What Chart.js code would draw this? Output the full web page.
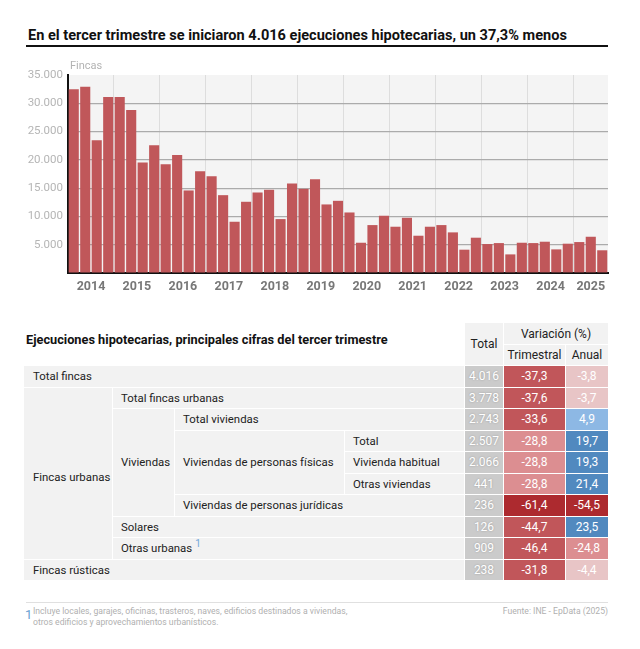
<!DOCTYPE html>
<html>
<head>
<meta charset="utf-8">
<script src="https://cdn.jsdelivr.net/npm/chart.js@4/dist/chart.umd.min.js"></script>
<style>
  html,body{margin:0;padding:0;background:#fff;}
  body{width:640px;height:649px;position:relative;overflow:hidden;font-family:Roboto,"Noto Sans",sans-serif;color:#222;}
  #title{position:absolute;left:28px;top:27px;font-size:14.55px;font-weight:700;color:#111;white-space:nowrap;}
  #rule{position:absolute;left:26px;top:45px;width:582px;height:2px;background:#111;}
  #unit{position:absolute;left:70px;top:59px;font-size:11px;color:#b3b3b3;}
  #wrap{position:absolute;left:0;top:0;width:640px;height:300px;}
  #sub{position:absolute;left:26px;top:332px;font-size:12.75px;font-weight:700;color:#111;white-space:nowrap;}
  .cell{position:absolute;box-sizing:border-box;display:flex;align-items:center;font-size:11.4px;white-space:nowrap;}
  .lab{background:#f2f2f2;padding-left:8px;color:#222;}
  .hd{background:#f2f2f2;justify-content:center;color:#222;font-size:12px;}
  .num{justify-content:center;color:#fff;font-size:12px;}
  .tot{background:#cbcbcb;text-shadow:0 0 2px rgba(0,0,0,0.25);}
  .sup{color:#6fa6da;font-size:10px;position:relative;top:-5px;margin-left:3px;}
  #frule{position:absolute;left:26px;top:602px;width:582px;height:1px;background:#e0e0e0;}
  #fn1{position:absolute;left:25px;top:607px;font-size:13px;color:#6a9fd2;}
  #fnt{position:absolute;left:33px;top:606px;font-size:8.65px;line-height:10.5px;color:#b0b0b0;}
  #src{position:absolute;right:32px;top:606px;font-size:8.6px;color:#b0b0b0;}
</style>
</head>
<body>
<div id="title">En el tercer trimestre se iniciaron 4.016 ejecuciones hipotecarias, un 37,3% menos</div>
<div id="rule"></div>
<div id="wrap"><canvas id="c"></canvas></div>
<div id="unit">Fincas</div>
<div id="sub">Ejecuciones hipotecarias, principales cifras del tercer trimestre</div>
<div id="table"></div>
<div id="frule"></div>
<div id="fn1">1</div>
<div id="fnt">Incluye locales, garajes, oficinas, trasteros, naves, edificios destinados a viviendas,<br>otros edificios y aprovechamientos urbanísticos.</div>
<div id="src">Fuente: INE - EpData (2025)</div>
<script>
// ---------- DATA ----------
const years = ['2014','2015','2016','2017','2018','2019','2020','2021','2022','2023','2024','2025'];
const quarters = ['T1','T2','T3','T4'];
const values = [
  32470, 32940, 23470, 31120,
  31120, 28820, 19530, 22590,
  19230, 20880, 14590, 18000,
  17120, 13760, 9060, 12590,
  14230, 14710, 9530, 15820,
  14880, 16590, 12120, 12760,
  10700, 5350, 8470, 10120,
  8180, 9760, 6590, 8180,
  8470, 7180, 4120, 6240,
  5120, 5290, 3290, 5350,
  5290, 5530, 4175, 5180,
  5470, 6407, 4016
];
const yTicks = [0, 5000, 10000, 15000, 20000, 25000, 30000, 35000];

const rowNames = ['Total fincas','Total fincas urbanas','Total viviendas','Total','Vivienda habitual','Otras viviendas','Viviendas de personas jurídicas','Solares','Otras urbanas','Fincas rústicas'];
const groupNames = ['Fincas urbanas','Viviendas','Viviendas de personas físicas'];
const totals = ['4.016','3.778','2.743','2.507','2.066','441','236','126','909','238'];
const trimestral = [-37.3,-37.6,-33.6,-28.8,-28.8,-28.8,-61.4,-44.7,-46.4,-31.8];
const anual = [-3.8,-3.7,4.9,19.7,19.3,21.4,-54.5,23.5,-24.8,-4.4];
const headers = ['Total','Variación (%)','Trimestral','Anual'];

// ---------- CHART ----------
const labels = [];
years.forEach(y => quarters.forEach(q => labels.push(y + q)));
labels.length = values.length;

const fmt = v => String(v).replace(/\B(?=(\d{3})+(?!\d))/g, '.');

const bgPlugin = {
  id: 'bg',
  beforeDraw(chart) {
    const {ctx, chartArea: a} = chart;
    ctx.save();
    ctx.fillStyle = '#f4f4f4';
    ctx.fillRect(a.left, a.top, a.right - a.left, a.bottom - a.top);
    ctx.restore();
  }
};

const yearCenters = years.map((y, i) => {
  const first = i * 4;
  const last = Math.min(first + 3, values.length - 1);
  return (first + last) / 2;
});

new Chart(document.getElementById('c'), {
  type: 'bar',
  data: {
    labels: labels,
    datasets: [{
      data: values,
      backgroundColor: '#c0575a',
      barPercentage: 0.88,
      categoryPercentage: 1.0,
      xAxisID: 'x',
      yAxisID: 'y'
    }]
  },
  options: {
    responsive: true,
    maintainAspectRatio: false,
    animation: false,
    layout: {padding: {left: 0, right: 32, top: 75, bottom: 0}},
    plugins: {legend: {display: false}, tooltip: {enabled: false}},
    scales: {
      x: {
        type: 'category',
        position: 'bottom',
        offset: true,
        grid: {
          offset: true,
          drawTicks: false,
          color: c => (c.index % 4 === 0 && c.index > 0 && c.index < values.length) ? '#dddddd' : 'rgba(0,0,0,0)',
          lineWidth: 1
        },
        border: {display: true, color: '#111', width: 2},
        ticks: {display: false},
        afterFit: s => { s.height = 0; }
      },
      xl: {
        type: 'linear',
        position: 'bottom',
        offset: false,
        bounds: 'data',
        min: -0.5,
        max: values.length - 0.5,
        grid: {display: false, drawTicks: false, offset: false},
        border: {display: false},
        afterBuildTicks: s => { s.ticks = yearCenters.map(v => ({value: v})); },
        ticks: {
          autoSkip: false,
          maxRotation: 0,
          padding: 6,
          color: '#777',
          font: {family: 'Roboto', size: 12.5, weight: 'bold'},
          callback: (v) => {
            const i = yearCenters.indexOf(v);
            return i >= 0 ? years[i] : '';
          }
        },
        afterFit: s => { s.height = 27; }
      },
      y: {
        min: 0,
        max: 35000,
        afterBuildTicks: s => { s.ticks = yTicks.map(v => ({value: v})); },
        grid: {
          drawTicks: false,
          color: c => (c.tick && c.tick.value > 0 && c.tick.value < 35000) ? '#ababab' : 'rgba(0,0,0,0)',
          lineWidth: 1.2
        },
        border: {display: true, color: '#111', width: 2},
        ticks: {
          padding: 5,
          color: '#b5b5b5',
          font: {family: 'Roboto', size: 11.5},
          callback: v => v === 0 ? '' : fmt(v)
        },
        afterFit: s => { s.width = 68; }
      }
    }
  },
  plugins: [bgPlugin]
});

// ---------- TABLE ----------
const colX = [24, 112, 174, 344, 464, 503, 565, 608];
const rowY = [322, 344, 365];
for (let k = 1; k <= rowNames.length; k++) rowY.push(365 + 21.5 * k);

function colorFor(v) {
  if (v <= -50) return '#ad2a2f';
  if (v <= -30) return '#c1565a';
  if (v <= -10) return '#dc8e91';
  if (v < 0) return '#e8c5c6';
  if (v < 10) return '#8db8e4';
  return '#5189bf';
}
const fmtPct = v => v.toFixed(1).replace('.', ',');

const table = document.getElementById('table');
function cell(r0, r1, c0, c1, html, cls, bg, extra) {
  const d = document.createElement('div');
  d.className = 'cell ' + cls;
  const x = colX[c0], y = rowY[r0];
  d.style.left = (x + (c0 === 0 ? 0 : 1)) + 'px';
  d.style.top = (y + 1) + 'px';
  d.style.width = (colX[c1] - x - (c0 === 0 ? 0 : 1)) + 'px';
  d.style.height = (rowY[r1] - y - 1) + 'px';
  if (bg) d.style.background = bg;
  if (extra) Object.assign(d.style, extra);
  d.innerHTML = html;
  table.appendChild(d);
}
// headers
cell(0, 2, 4, 5, headers[0], 'hd');
cell(0, 1, 5, 7, headers[1], 'hd');
cell(1, 2, 5, 6, headers[2], 'hd');
cell(1, 2, 6, 7, headers[3], 'hd');
// label structure
const B = r => r + 2;
cell(B(0), B(1), 0, 4, rowNames[0], 'lab', null, {paddingLeft: '9px'});
cell(B(1), B(9), 0, 1, groupNames[0], 'lab', null, {paddingLeft: '9px', paddingTop: '7px'});
cell(B(1), B(2), 1, 4, rowNames[1], 'lab');
cell(B(2), B(7), 1, 2, groupNames[1], 'lab');
cell(B(2), B(3), 2, 4, rowNames[2], 'lab');
cell(B(3), B(6), 2, 3, groupNames[2], 'lab');
cell(B(3), B(4), 3, 4, rowNames[3], 'lab');
cell(B(4), B(5), 3, 4, rowNames[4], 'lab');
cell(B(5), B(6), 3, 4, rowNames[5], 'lab');
cell(B(6), B(7), 2, 4, rowNames[6], 'lab');
cell(B(7), B(8), 1, 4, rowNames[7], 'lab');
cell(B(8), B(9), 1, 4, rowNames[8] + '<span class="sup">1</span>', 'lab');
cell(B(9), B(10), 0, 4, rowNames[9], 'lab', null, {paddingLeft: '9px'});
// values
for (let r = 0; r < rowNames.length; r++) {
  cell(B(r), B(r + 1), 4, 5, totals[r], 'num tot');
  cell(B(r), B(r + 1), 5, 6, fmtPct(trimestral[r]), 'num', colorFor(trimestral[r]));
  cell(B(r), B(r + 1), 6, 7, fmtPct(anual[r]), 'num', colorFor(anual[r]));
}
</script>
</body>
</html>
